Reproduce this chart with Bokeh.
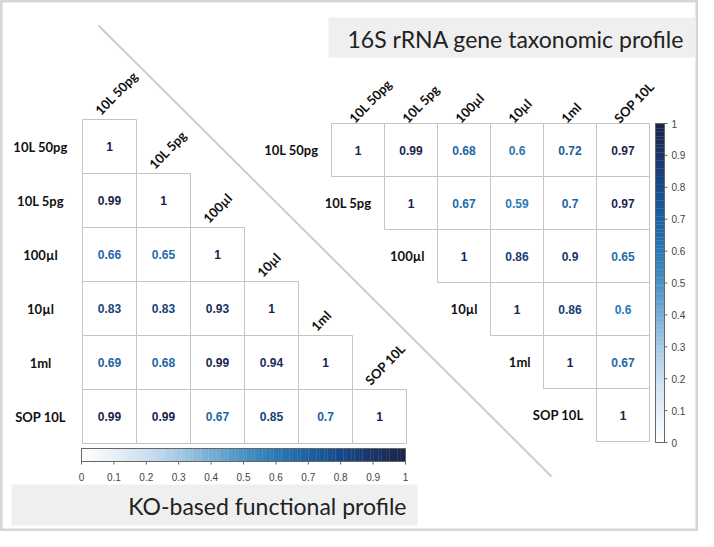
import numpy as np
from bokeh.plotting import figure
from bokeh.models import Range1d, ColumnDataSource
from bokeh.transform import linear_cmap
from bokeh.core.properties import value
from bokeh.embed import file_html
from bokeh.resources import INLINE

# ---------------- data ----------------
samples = ["10L 50pg", "10L 5pg", "100µl", "10µl", "1ml", "SOP 10L"]

# KO-based functional profile (lower triangle, row by row)
ko_rows = [
    [1],
    [0.99, 1],
    [0.66, 0.65, 1],
    [0.83, 0.83, 0.93, 1],
    [0.69, 0.68, 0.99, 0.94, 1],
    [0.99, 0.99, 0.67, 0.85, 0.7, 1],
]

# 16S rRNA gene taxonomic profile (upper triangle, row by row from diagonal)
s16_rows = [
    [1, 0.99, 0.68, 0.6, 0.72, 0.97],
    [1, 0.67, 0.59, 0.7, 0.97],
    [1, 0.86, 0.9, 0.65],
    [1, 0.86, 0.6],
    [1, 0.67],
    [1],
]

cbar_ticks = [0, 0.1, 0.2, 0.3, 0.4, 0.5, 0.6, 0.7, 0.8, 0.9, 1]
cbar_tick_labels = ["0", "0.1", "0.2", "0.3", "0.4", "0.5", "0.6", "0.7", "0.8", "0.9", "1"]

title_16s = "16S rRNA gene taxonomic profile"
title_ko = "KO-based functional profile"

# ---------------- style / layout ----------------
stops = ["#ffffff", "#e6eff8", "#cadfef", "#a4c9e4", "#76add5", "#4a91c3",
         "#2b78b5", "#1d61a1", "#164a8a", "#1a3468", "#1a2448"]


def hex2rgb(h):
    h = h.lstrip("#")
    return np.array([int(h[i:i + 2], 16) for i in (0, 2, 4)], dtype=float)


stop_rgb = np.array([hex2rgb(s) for s in stops])
stop_pos = np.linspace(0, 1, len(stops))
grid = np.linspace(0, 1, 256)
palette = []
for g in grid:
    rgb = [np.interp(g, stop_pos, stop_rgb[:, c]) for c in range(3)]
    palette.append("#%02x%02x%02x" % tuple(int(round(c)) for c in rgb))

FONT_LBL = value("Lato")
FONT_NUM = value("Liberation Sans")

L_X0, L_Y0, L_C = 82, 119, 54      # left (KO) matrix
R_X0, R_Y0, R_C = 331, 123, 53     # right (16S) matrix
ANG = np.deg2rad(46)

p = figure(width=698, height=531, x_range=Range1d(0, 698), y_range=Range1d(531, 0),
           x_axis_type=None, y_axis_type=None, toolbar_location=None,
           output_backend="svg", min_border=0)
p.grid.visible = False
p.outline_line_color = "#d6d6d6"
p.outline_line_width = 4
p.background_fill_color = "white"
p.border_fill_color = "white"

# ---------- title boxes ----------
p.quad(left=[328], right=[695], top=[17], bottom=[57], fill_color="#efefef", line_color=None)
p.text(x=[347], y=[38], text=[title_16s], text_font=FONT_LBL, text_font_size="23px",
       text_color="#222222", text_align="left", text_baseline="middle")
p.quad(left=[11], right=[417], top=[484], bottom=[525], fill_color="#efefef", line_color=None)
p.text(x=[406], y=[505], text=[title_ko], text_font=FONT_LBL, text_font_size="23px",
       text_color="#222222", text_align="right", text_baseline="middle")

# ---------- diagonal separator ----------
p.line(x=[98, 551], y=[25, 476], line_color="#cccccc", line_width=2)

cmap = linear_cmap("v", palette, 0, 1)

# ---------- left matrix (KO) ----------
lc = dict(l=[], r=[], t=[], b=[], x=[], y=[], v=[], s=[])
for i, row in enumerate(ko_rows):
    for j, v in enumerate(row):
        lc["l"].append(L_X0 + j * L_C); lc["r"].append(L_X0 + (j + 1) * L_C)
        lc["t"].append(L_Y0 + i * L_C); lc["b"].append(L_Y0 + (i + 1) * L_C)
        lc["x"].append(L_X0 + (j + 0.5) * L_C); lc["y"].append(L_Y0 + (i + 0.5) * L_C)
        lc["v"].append(v); lc["s"].append(f"{v:g}")
src_l = ColumnDataSource(lc)
p.quad(left="l", right="r", top="t", bottom="b", source=src_l,
       fill_color="white", line_color="#c4c4c4", line_width=1)
p.text(x="x", y="y", text="s", source=src_l, text_color=cmap, text_font=FONT_NUM,
       text_font_style="bold", text_font_size="12px", text_align="center", text_baseline="middle")

n = len(samples)
p.text(x=[40] * n, y=[L_Y0 + (i + 0.5) * L_C for i in range(n)], text=samples,
       text_font=FONT_LBL, text_font_style="bold", text_font_size="13px",
       text_color="#111111", text_align="center", text_baseline="middle")
p.text(x=[L_X0 + j * L_C + 15 for j in range(n)], y=[L_Y0 + j * L_C - 7 for j in range(n)],
       text=samples, angle=ANG, text_font=FONT_LBL, text_font_style="bold", text_font_size="13px",
       text_color="#111111", text_align="left", text_baseline="alphabetic")

# ---------- right matrix (16S) ----------
rc = dict(l=[], r=[], t=[], b=[], x=[], y=[], v=[], s=[])
for i, row in enumerate(s16_rows):
    for k, v in enumerate(row):
        j = i + k
        rc["l"].append(R_X0 + j * R_C); rc["r"].append(R_X0 + (j + 1) * R_C)
        rc["t"].append(R_Y0 + i * R_C); rc["b"].append(R_Y0 + (i + 1) * R_C)
        rc["x"].append(R_X0 + (j + 0.5) * R_C); rc["y"].append(R_Y0 + (i + 0.5) * R_C)
        rc["v"].append(v); rc["s"].append(f"{v:g}")
src_r = ColumnDataSource(rc)
p.quad(left="l", right="r", top="t", bottom="b", source=src_r,
       fill_color="white", line_color="#c4c4c4", line_width=1)
p.text(x="x", y="y", text="s", source=src_r, text_color=cmap, text_font=FONT_NUM,
       text_font_style="bold", text_font_size="12px", text_align="center", text_baseline="middle")

p.text(x=[R_X0 + i * R_C - 13 for i in range(n)], y=[R_Y0 + (i + 0.5) * R_C for i in range(n)],
       text=samples, text_font=FONT_LBL, text_font_style="bold", text_font_size="13px",
       text_color="#111111", text_align="right", text_baseline="middle")
p.text(x=[R_X0 + j * R_C + 20 for j in range(n)], y=[R_Y0 - 3] * n,
       text=samples, angle=ANG, text_font=FONT_LBL, text_font_style="bold", text_font_size="13px",
       text_color="#111111", text_align="left", text_baseline="alphabetic")

# ---------- colour bars ----------
nseg = 120
seg = np.linspace(0, 1, nseg + 1)
mid = (seg[:-1] + seg[1:]) / 2

# horizontal (bottom)
HB_X0, HB_X1, HB_T, HB_B = 81, 405, 448, 461
hx = HB_X0 + seg * (HB_X1 - HB_X0)
src_hb = ColumnDataSource(dict(l=hx[:-1], r=hx[1:] + 0.3, v=mid))
p.quad(left="l", right="r", top=HB_T, bottom=HB_B, source=src_hb,
       fill_color=cmap, line_color=None)
p.quad(left=[HB_X0], right=[HB_X1], top=[HB_T], bottom=[HB_B], fill_color=None,
       line_color="#666666", line_width=1)
tx = [HB_X0 + t * (HB_X1 - HB_X0) for t in cbar_ticks]
p.segment(x0=tx, x1=tx, y0=[HB_B] * len(tx), y1=[HB_B + 3] * len(tx), line_color="#666666")
p.text(x=tx, y=[476] * len(tx), text=cbar_tick_labels, text_font=FONT_NUM, text_font_size="10px",
       text_color="#444444", text_align="center", text_baseline="middle")

# vertical (right)
VB_L, VB_R, VB_T, VB_B = 655, 664, 123, 442
vy = VB_B - seg * (VB_B - VB_T)
src_vb = ColumnDataSource(dict(t=vy[1:] - 0.3, b=vy[:-1], v=mid))
p.quad(left=VB_L, right=VB_R, top="t", bottom="b", source=src_vb,
       fill_color=cmap, line_color=None)
p.quad(left=[VB_L], right=[VB_R], top=[VB_T], bottom=[VB_B], fill_color=None,
       line_color="#666666", line_width=1)
ty = [VB_B - t * (VB_B - VB_T) for t in cbar_ticks]
p.segment(x0=[VB_R] * len(ty), x1=[VB_R + 3] * len(ty), y0=ty, y1=ty, line_color="#666666")
p.text(x=[671] * len(ty), y=ty, text=cbar_tick_labels, text_font=FONT_NUM, text_font_size="10px",
       text_color="#444444", text_align="left", text_baseline="middle")

open("out.html", "w").write(file_html(p, INLINE))
